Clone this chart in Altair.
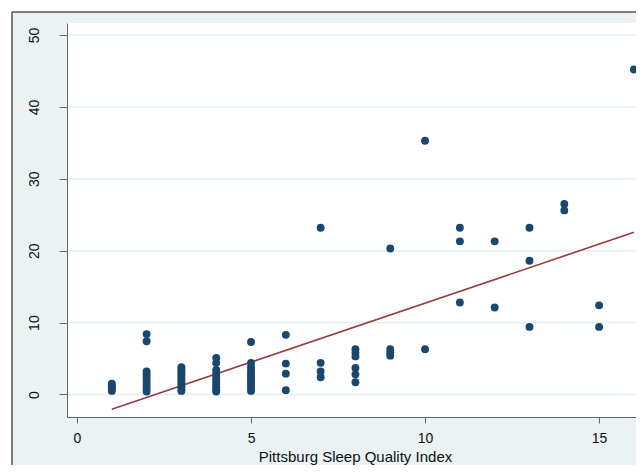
import altair as alt
import pandas as pd

# ---- data ----
psqi_1 = [0.5, 0.8, 1.0, 1.3, 1.5]
psqi_2 = [8.4, 7.4, 3.2, 2.8, 2.4, 2.0, 1.6, 1.2, 0.8, 0.4]
psqi_3 = [3.8, 3.5, 3.2, 2.9, 2.6, 2.3, 2.0, 1.7, 1.4, 1.1, 0.8, 0.5]
psqi_4 = [5.1, 4.4, 3.4, 3.0, 2.6, 2.2, 1.8, 1.4, 1.0, 0.6, 0.4]
psqi_5 = [7.3, 4.4, 3.8, 3.3, 2.9, 2.5, 2.1, 1.7, 1.3, 0.9, 0.5]
psqi_6 = [8.3, 4.3, 2.9, 0.6]
psqi_7 = [23.2, 4.4, 3.2, 2.4]
psqi_8 = [6.3, 5.8, 5.3, 3.7, 2.8, 1.7]
psqi_9 = [20.3, 6.3, 5.8, 5.4]
psqi_10 = [35.3, 6.3]
psqi_11 = [23.2, 21.3, 12.8]
psqi_12 = [21.3, 12.1]
psqi_13 = [23.2, 18.6, 9.4]
psqi_14 = [26.5, 25.6]
psqi_15 = [12.4, 9.4]
psqi_16 = [45.2]

groups = {1: psqi_1, 2: psqi_2, 3: psqi_3, 4: psqi_4, 5: psqi_5, 6: psqi_6,
          7: psqi_7, 8: psqi_8, 9: psqi_9, 10: psqi_10, 11: psqi_11,
          12: psqi_12, 13: psqi_13, 14: psqi_14, 15: psqi_15, 16: psqi_16}

# fitted line end points
fit_x = [1, 16]
fit_y = [-2.06, 22.56]

x_ticks = [0, 5, 10, 15]
y_ticks = [0, 10, 20, 30, 40, 50]

rows = [{"x": k, "y": v} for k, vals in groups.items() for v in vals]
pts = pd.DataFrame(rows)
fit = pd.DataFrame({"x": fit_x, "y": fit_y})
grid = pd.DataFrame({"y": y_ticks})
one = pd.DataFrame({"a": [0]})

W, H = 569, 394
BG = "#EAF2F3"
FONT = "Liberation Sans"

xs = alt.Scale(domain=[-0.287, 16.06], nice=False, zero=False)
ys = alt.Scale(domain=[-3.13, 51.67], nice=False, zero=False)

xaxis = alt.Axis(values=x_ticks, grid=False, title="Pittsburg Sleep Quality Index",
                 tickSize=6, labelPadding=8, titlePadding=4, zindex=1,
                 titleX=288, titleAlign="center", titleAnchor="start",
                 labelFont=FONT, labelFontSize=14, labelColor="#111",
                 titleFont=FONT, titleFontSize=15, titleFontWeight="normal",
                 titleColor="#111", domainColor="#666", tickColor="#666",
                 labelFlush=False)
yaxis = alt.Axis(values=y_ticks, grid=False, title=None, tickSize=8,
                 labelPadding=25, labelAngle=270, labelAlign="center",
                 labelBaseline="middle", zindex=1, labelFont=FONT,
                 labelFontSize=14, labelColor="#111", domainColor="#666",
                 tickColor="#666")

X = alt.X("x:Q", scale=xs, axis=xaxis)
Y = alt.Y("y:Q", scale=ys, axis=yaxis)

bg_left = alt.Chart(one).mark_rect(color=BG).encode(
    x=alt.value(-55), x2=alt.value(0), y=alt.value(-11), y2=alt.value(470))
bg_top = alt.Chart(one).mark_rect(color=BG).encode(
    x=alt.value(0), x2=alt.value(W + 20), y=alt.value(-11), y2=alt.value(0))
bg_bot = alt.Chart(one).mark_rect(color=BG).encode(
    x=alt.value(0), x2=alt.value(W + 20), y=alt.value(H), y2=alt.value(470))

gridlines = alt.Chart(grid).mark_rule(color="#E4EEF1", strokeWidth=1.5).encode(y=Y)

line = alt.Chart(fit).mark_line(color="#963A3C", strokeWidth=1.6).encode(x=X, y=Y)

dots = alt.Chart(pts).mark_circle(size=62, color="#1A476F", opacity=1).encode(x=X, y=Y)

frame_v = alt.Chart(one).mark_rule(color="#555", strokeWidth=1.5).encode(
    x=alt.value(-55), y=alt.value(-11), y2=alt.value(470))
frame_h = alt.Chart(one).mark_rule(color="#555", strokeWidth=1.5).encode(
    x=alt.value(-55), x2=alt.value(W + 20), y=alt.value(-11))

chart = alt.layer(gridlines, line, dots, bg_left, bg_top, bg_bot, frame_v, frame_h).properties(
    width=W, height=H,
    autosize=alt.AutoSizeParams(type="none"),
    padding={"left": 59, "top": 15, "right": 0, "bottom": 48},
    background="white",
).configure_view(strokeWidth=0)

chart.save("out.html", embed_options={"renderer": "svg", "actions": False})
